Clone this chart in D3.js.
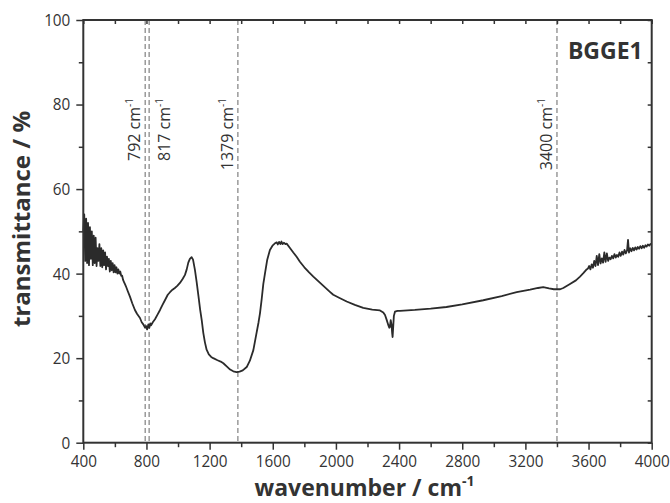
<!DOCTYPE html>
<html>
<head>
<meta charset="utf-8">
<script src="https://cdn.jsdelivr.net/npm/d3@7"></script>
<style>
  html, body { margin: 0; padding: 0; background: #fff; }
  svg { display: block; }
  text { font-family: "Open Sans", "Noto Sans", sans-serif; fill: #333; }
</style>
</head>
<body>
<svg id="chart" width="670" height="503"></svg>
<script>
// ---- data ----
const wavenumber = [
  400,406,412,418,424,430,436,442,448,454,460,466,472,478,484,490,496,502,508,514,520,526,532,538,544,550,556,562,568,574,580,586,592,598,604,610,616,622,628,634,640,646,652,658,664,670,
  680,696,710,727,740,759,770,780,790,797,804,812,818,824,830,840,854,870,886,900,917,935,949,965,980,995,1012,1030,1044,1055,1065,1075,1086,1095,1107,1118,1130,1140,1150,1160,1170,1181,1195,1210,1223,1250,1270,1287,1310,1330,1350,1371,1390,1410,1435,1455,1477,1495,1510,1519,1530,1540,1551,1565,1582,1600,1612,1625,1632,1640,1648,1655,1662,1670,1680,1688,1710,1730,1751,1772,1800,1830,1857,1900,1962,1983,2020,2068,2120,2173,2230,2279,2300,2311,2322,2332,2338,2342,2347,2352,2356,2359,2363,2367,2374,2390,2406,2500,2600,2700,2800,2933,3050,3145,3230,3280,3313,3350,3380,3398,3420,3440,3480,3520,3546,3567,3588,
  3596,3604,3612,3620,3628,3636,3644,3652,3660,3668,3676,3684,3692,3700,3708,3716,3724,3732,3740,3748,3756,3764,3772,3780,3788,3796,3804,3812,3820,3828,3836,3844,3850,3856,3864,3872,3880,3888,3896,3904,3912,3920,3928,3936,3944,3952,3960,3968,3976,3984,3992,4000
];
const transmittance = [
  50,54,43,53,42.5,52,42,51,43.5,50,42,49,42.5,48.5,41.8,46,43,47,41.8,46,41.5,45.5,42,45,41,44,41.8,43.5,40.5,43,40.8,42.5,40.3,42,40.3,41.5,40,41,40,40.5,39.5,39.5,38.5,38,37.5,37,
  36,34.5,33,31.4,30.5,29.5,28.5,28,27.3,27.6,26.8,28,27.2,28.2,27.8,28.5,29.2,30.3,31.4,32.5,33.7,35,35.6,36.2,36.6,37.1,37.8,38.8,39.7,41,42.6,43.5,43.9,43.3,40.9,38,34.5,31.5,29,26,23.8,22,20.9,20.3,20,19.5,19.2,18.8,18,17.3,16.9,16.7,16.8,17.1,17.9,19.4,21.9,25.5,28.5,30.6,34,37.5,40.1,43.3,45.6,46.7,47.1,47.4,46.9,47.5,47,47.6,47,47.3,47,47.1,46,45,44,42.8,41.5,40.3,39.3,37.8,35.7,35,34.3,33.4,32.6,31.9,31.5,31.3,30.8,30.2,29,27.8,27.2,27.4,29,28,26,25,27.5,30,31,31.2,31.2,31.4,31.7,32.1,32.7,33.7,34.7,35.6,36.2,36.6,36.8,36.5,36.3,36.3,36.3,36.6,37.5,38.4,39.3,40.1,41,
  41.2,41.8,41,42.2,41.4,43,41.8,44.2,42,44.6,42.4,43.6,42.6,45,42.8,44.8,43,43.8,43.4,44.2,43.6,44.6,43.8,44.4,44,45,44.2,45.2,44.5,45.6,44.8,45.5,48,45,46,45.3,46.1,45.5,46.2,45.7,46.3,45.9,46.5,46,46.6,46.1,46.7,46.4,46.9,46.6,47,46.8
];
const markerPositions = [792, 817, 1379, 3400];
const markerLabels = ["792 cm", "817 cm", "1379 cm", "3400 cm"];
const markerSide = ["left", "right", "left", "left"];
const xTicks = [400, 800, 1200, 1600, 2000, 2400, 2800, 3200, 3600, 4000];
const xMinor = d3.range(600, 4000, 400);
const yTicks = [0, 20, 40, 60, 80, 100];
const yMinor = [10, 30, 50, 70, 90];
const sampleName = "BGGE1";

// ---- layout ----
const svg = d3.select("#chart");
const L = 83.3, R = 651.7, T = 20, B = 442.7;
const x = d3.scaleLinear().domain([400, 4000]).range([L, R]);
const y = d3.scaleLinear().domain([0, 100]).range([B, T]);
const axisColor = "#333";

// marker dashed lines
const mk = svg.append("g");
markerPositions.forEach((w, i) => {
  mk.append("line")
    .attr("x1", x(w)).attr("x2", x(w))
    .attr("y1", T).attr("y2", B)
    .attr("stroke", "#8a8a8a").attr("stroke-width", 1.3)
    .attr("stroke-dasharray", "5,3");
  const bx = markerSide[i] === "left" ? x(w) - 5 : x(w) + 21;
  const t = mk.append("text")
    .attr("transform", `translate(${bx},98) rotate(-90)`)
    .attr("text-anchor", "end")
    .attr("font-size", 16);
  t.append("tspan").text(markerLabels[i]);
  t.append("tspan").attr("dy", -7).attr("font-size", 10).text("-1");
});

// data line
const line = d3.line().x((d, i) => x(wavenumber[i])).y(d => y(d));
svg.append("path")
  .datum(transmittance)
  .attr("d", line)
  .attr("fill", "none")
  .attr("stroke", "#2b2b2b")
  .attr("stroke-width", 1.8)
  .attr("stroke-linejoin", "round");

// axes
const styleAxis = g => {
  g.select(".domain").remove();
  g.selectAll("line").attr("stroke", axisColor).attr("stroke-width", 1.5);
  g.selectAll("text").attr("font-size", 17).attr("fill", "#333")
    .attr("font-family", '"Open Sans", sans-serif');
};
svg.append("g").attr("transform", `translate(0,${B})`)
  .call(d3.axisBottom(x).tickValues(xTicks).tickSize(7).tickPadding(5).tickFormat(d3.format("d")))
  .call(styleAxis)
  .call(g => g.selectAll("text").attr("transform", "scale(0.9,1)"));
svg.append("g").attr("transform", `translate(0,${B})`)
  .call(d3.axisBottom(x).tickValues(xMinor).tickSize(4.5).tickFormat(""))
  .call(styleAxis);
svg.append("g").attr("transform", `translate(${L},0)`)
  .call(d3.axisLeft(y).tickValues(yTicks).tickSize(7).tickPadding(6))
  .call(styleAxis)
  .call(g => g.selectAll("text").attr("x", -14.4).attr("transform", "scale(0.9,1)"));
svg.append("g").attr("transform", `translate(${L},0)`)
  .call(d3.axisLeft(y).tickValues(yMinor).tickSize(4.5).tickFormat(""))
  .call(styleAxis);
// mirror axes (ticks inward)
svg.append("g").attr("transform", `translate(${R},0)`)
  .call(d3.axisRight(y).tickValues(d3.range(0, 101, 10)).tickSize(-4).tickFormat(""))
  .call(styleAxis);
svg.append("g").attr("transform", `translate(0,${T})`)
  .call(d3.axisTop(x).tickValues(d3.range(400, 4001, 200)).tickSize(-4).tickFormat(""))
  .call(styleAxis);

// frame
svg.append("rect")
  .attr("x", L).attr("y", T).attr("width", R - L).attr("height", B - T)
  .attr("fill", "none").attr("stroke", axisColor).attr("stroke-width", 2);

// sample label
svg.append("text")
  .attr("x", R - 9).attr("y", 59)
  .attr("text-anchor", "end")
  .attr("font-size", 23).attr("font-weight", "bold")
  .text(sampleName);

// axis titles
const xt = svg.append("text")
  .attr("x", (L + R) / 2 - 3).attr("y", 496)
  .attr("text-anchor", "middle")
  .attr("font-size", 23).attr("font-weight", "bold");
xt.append("tspan").text("wavenumber / cm");
xt.append("tspan").attr("dy", -10).attr("font-size", 14).text("-1");

svg.append("text")
  .attr("transform", `translate(30,219) rotate(-90)`)
  .attr("text-anchor", "middle")
  .attr("font-size", 24).attr("font-weight", "bold")
  .text("transmittance / %");
</script>
</body>
</html>
